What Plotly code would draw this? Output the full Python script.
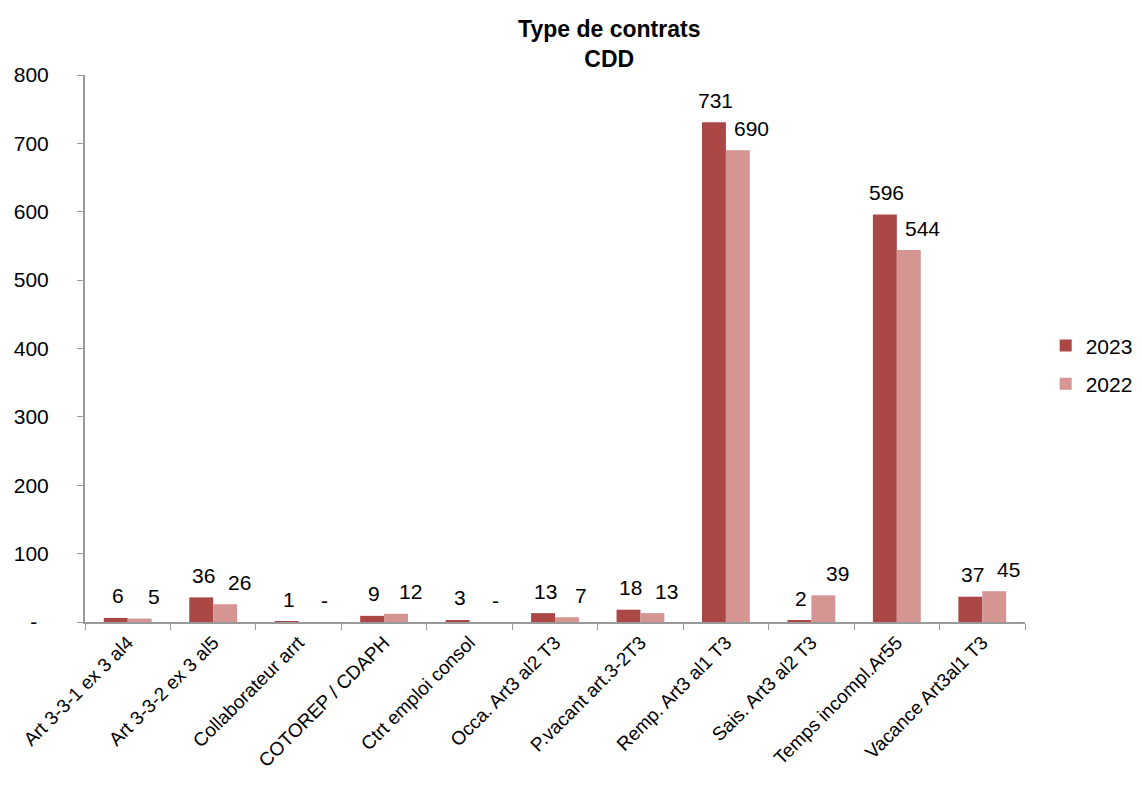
import plotly.graph_objects as go

categories = ["Art 3-3-1 ex 3 al4", "Art 3-3-2 ex 3 al5", "Collaborateur arrt",
              "COTOREP / CDAPH", "Ctrt emploi consol", "Occa. Art3 al2 T3",
              "P.vacant art.3-2T3", "Remp. Art3 al1 T3", "Sais. Art3 al2 T3",
              "Temps incompl.Ar55", "Vacance Art3al1 T3"]
values_2023 = [6, 36, 1, 9, 3, 13, 18, 731, 2, 596, 37]
values_2022 = [5, 26, 0, 12, 0, 7, 13, 690, 39, 544, 45]
y_ticks = [0, 100, 200, 300, 400, 500, 600, 700, 800]
y_tick_text = ["-\u00a0\u00a0", "100", "200", "300", "400", "500", "600", "700", "800"]

def lbl(v):
    return "-" if v == 0 else str(v)

FAM = "Liberation Sans, Arial, sans-serif"
font = dict(family=FAM, size=21, color="black")

fig = go.Figure()
fig.add_trace(go.Bar(x=categories, y=values_2023, name="2023", legendgroup="a",
                     marker=dict(color="#AB4846", line=dict(width=0))))
fig.add_trace(go.Bar(x=categories, y=values_2022, name="2022", legendgroup="b",
                     marker=dict(color="#D59593", line=dict(width=0))))

# data labels (Excel-like, above each bar)
for cat, v in zip(categories, values_2023):
    fig.add_annotation(x=cat, y=v, text=lbl(v), showarrow=False, xref="x", yref="y",
                       xshift=-10, yshift=22, yanchor="middle", font=font)
for cat, v in zip(categories, values_2022):
    fig.add_annotation(x=cat, y=v, text=lbl(v), showarrow=False, xref="x", yref="y",
                       xshift=26, yshift=22, yanchor="middle", font=font)

fig.update_layout(
    width=1126, height=769,
    margin=dict(l=77, r=109, t=67, b=155, autoexpand=False),
    paper_bgcolor="white", plot_bgcolor="white",
    font=font,
    barmode="group", bargap=0.44, bargroupgap=0,
    title=dict(text="<b>Type de contrats<br>CDD</b>", x=0.534, xanchor="center",
               y=0.962, yanchor="middle", font=dict(size=23, family=FAM)),
    legend=dict(x=1.022, y=0.47, xanchor="left", yanchor="middle",
                font=dict(size=21, family=FAM), traceorder="grouped", tracegroupgap=8),
)
fig.update_xaxes(showline=True, linecolor="#999999", linewidth=2, automargin=False,
                 ticks="outside", tickson="boundaries", ticklen=6, tickcolor="#999999",
                 tickangle=-45, tickfont=dict(size=19, family=FAM), showgrid=False)
fig.update_yaxes(range=[0, 800], tickvals=y_ticks, ticktext=y_tick_text, automargin=False,
                 showline=True, linecolor="#999999", linewidth=2,
                 ticks="outside", ticklen=6, tickcolor="#999999", ticklabelstandoff=24,
                 tickfont=dict(size=21, family=FAM), showgrid=False, zeroline=False)

fig.write_html("out.html")
